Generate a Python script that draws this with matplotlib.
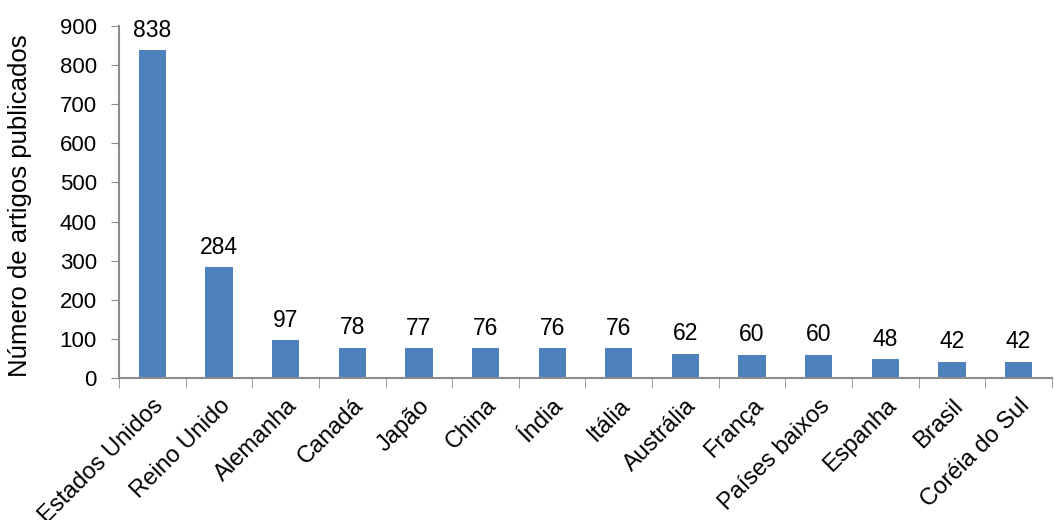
import matplotlib
matplotlib.use("Agg")
import matplotlib.pyplot as plt
import numpy as np

# dados
paises = ["Estados Unidos", "Reino Unido", "Alemanha", "Canadá", "Japão", "China",
          "Índia", "Itália", "Austrália", "França", "Países baixos", "Espanha",
          "Brasil", "Coréia do Sul"]
artigos = [838, 284, 97, 78, 77, 76, 76, 76, 62, 60, 60, 48, 42, 42]

plt.rcParams['font.family'] = ['Liberation Sans', 'DejaVu Sans']

fig = plt.figure(figsize=(10.54, 5.2), dpi=100)
ax = fig.add_axes([0.113, 0.273, 0.885, 0.677])

x = np.arange(len(paises))
ax.bar(x, artigos, width=0.41, color='#4f81bd')
for xi, v in zip(x, artigos):
    ax.annotate(str(v), (xi, v), xytext=(0, 6), textcoords='offset points',
                ha='center', va='bottom', fontsize=16.5)

ax.set_xlim(-0.5, len(paises) - 0.5)
ax.set_ylim(0, 900)
ax.set_yticks(range(0, 901, 100))
ax.set_xticks(x)
ax.set_xticklabels(paises, rotation=45, ha='right', rotation_mode='anchor', fontsize=17)
ax.set_xticks(np.arange(-0.5, len(paises), 1), minor=True)
ax.tick_params(axis='x', which='major', length=0, pad=12)
ax.tick_params(axis='x', which='minor', length=7, color='#8c8c8c', direction='out')
ax.tick_params(axis='y', length=6, color='#8c8c8c', labelsize=16, direction='out', pad=10)
ax.set_ylabel('Número de artigos publicados', fontsize=18.5)
ax.yaxis.set_label_coords(-0.093, 0.49)

for s in ['top', 'right']:
    ax.spines[s].set_visible(False)
for s in ['left', 'bottom']:
    ax.spines[s].set_color('#8c8c8c')
    ax.spines[s].set_linewidth(1.5)

fig.savefig('out.png', dpi=100)
